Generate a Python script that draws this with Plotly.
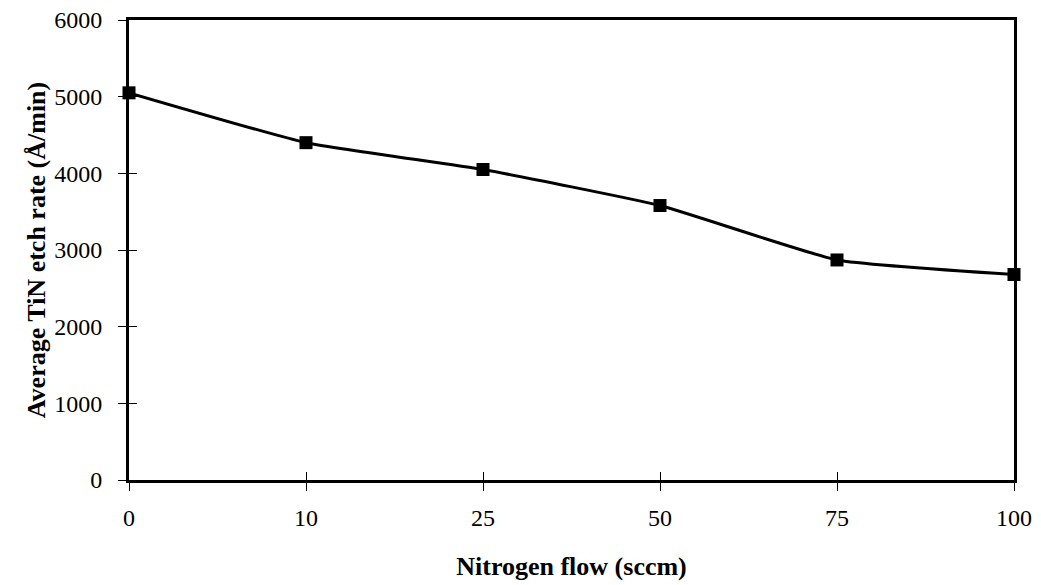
import plotly.graph_objects as go

flow_labels = ["0", "10", "25", "50", "75", "100"]
etch_rate = [5050, 4400, 4050, 3580, 2870, 2680]
y_ticks = [0, 1000, 2000, 3000, 4000, 5000, 6000]

FONT = "Liberation Serif, Times New Roman, serif"

fig = go.Figure()
fig.add_trace(go.Scatter(
    x=flow_labels, y=etch_rate, mode="lines+markers",
    line=dict(color="black", width=3, shape="spline", smoothing=0.4),
    marker=dict(symbol="square", size=13, color="black"),
    cliponaxis=False, showlegend=False,
))

fig.update_layout(
    width=1041, height=585,
    margin=dict(l=129, r=27, t=20, b=105),
    paper_bgcolor="white", plot_bgcolor="white",
    font=dict(family=FONT, color="black", size=24),
    xaxis=dict(
        type="category", range=[0, 5], automargin=False,
        showline=True, linecolor="black", linewidth=3, mirror=True,
        ticks="outside", ticklen=8, tickwidth=1, tickcolor="black",
        showgrid=False, zeroline=False, ticklabelstandoff=6,
        tickfont=dict(size=24),
        title=dict(text="<b>Nitrogen flow (sccm)</b>", font=dict(size=26), standoff=28),
    ),
    yaxis=dict(
        range=[0, 6000], tickvals=y_ticks, automargin=False,
        showline=True, linecolor="black", linewidth=3, mirror=True,
        ticks="outside", ticklen=8, tickwidth=1, tickcolor="black",
        showgrid=False, zeroline=False, ticklabelstandoff=11,
        tickfont=dict(size=24),
        title=dict(text="<b>Average TiN etch rate (Å/min)</b>", font=dict(size=26), standoff=2),
    ),
    xaxis2=dict(
        type="category", range=[0, 5], overlaying="x", side="bottom",
        anchor="y", categoryarray=flow_labels, automargin=False,
        ticks="inside", ticklen=8, tickwidth=1, tickcolor="black",
        showticklabels=False, showgrid=False, zeroline=False, showline=False,
        tickvals=flow_labels,
    ),
    yaxis2=dict(
        range=[0, 6000], overlaying="y", side="left", anchor="x", automargin=False,
        tickvals=y_ticks,
        ticks="inside", ticklen=8, tickwidth=1, tickcolor="black",
        showticklabels=False, showgrid=False, zeroline=False, showline=False,
    ),
)
fig.add_trace(go.Scatter(x=flow_labels, y=etch_rate, xaxis="x2", yaxis="y2",
                         mode="none", showlegend=False, hoverinfo="skip"))

fig.write_html("out.html")
